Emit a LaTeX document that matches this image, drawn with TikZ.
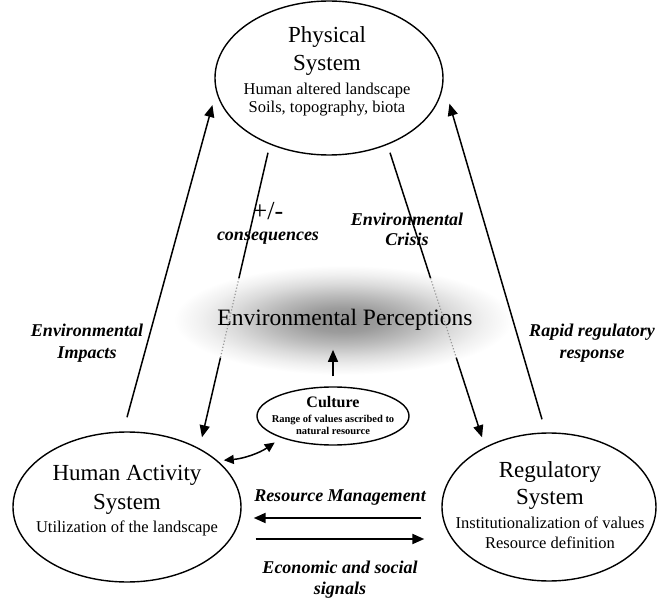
\documentclass[tikz,border=0pt]{standalone}
\usepackage{fontspec}
\setmainfont{Liberation Serif}
\usetikzlibrary{shapes.geometric,arrows.meta,calc}
\pgfdeclareradialshading{glowshade}{\pgfpoint{0bp}{0bp}}{color(0bp)=(black!44); color(4bp)=(black!39); color(8bp)=(black!27); color(12bp)=(black!14); color(15bp)=(black!6); color(18bp)=(white); color(50bp)=(white)}
\begin{document}
\begin{tikzpicture}[x=1pt,y=-1pt,
  ell/.style={draw, ellipse, line width=1.4pt, inner sep=0pt},
  arr/.style={line width=1.5pt, -{Triangle[length=12pt,width=10pt]}},
  plainline/.style={line width=1.5pt},
  fadeline/.style={draw=gray!80, dotted, line width=1.2pt},
  lab/.style={font=\fontsize{18}{22}\selectfont\bfseries\itshape, align=center, inner sep=0pt},
  big/.style={font=\fontsize{23}{28}\selectfont, align=center, inner sep=0pt},
  small/.style={font=\fontsize{16.5}{19}\selectfont, align=center, inner sep=0pt}]
\useasboundingbox (0,0) rectangle (657,599);
\shade[shading=glowshade] (343,320) ellipse [x radius=235pt, y radius=76pt];

% ellipses
\node[ell, minimum width=228pt, minimum height=154pt] (phys) at (329,78) {};
\node[ell, minimum width=228pt, minimum height=150pt] (human) at (127,507) {};
\node[ell, minimum width=214pt, minimum height=148pt] (reg) at (549,507) {};
\node[ell, minimum width=152pt, minimum height=58pt] (cult) at (333,416) {};

% texts
\node[big] (physT) at (327,51.5) {Physical\\System};
\node[small, font=\fontsize{16.5}{18}\selectfont] (physS) at (327,100) {Human altered landscape\\Soils, topography, biota};
\node[big, font=\fontsize{23}{29}\selectfont] (humanT) at (127,490) {Human Activity\\System};
\node[small] (humanS) at (127,528) {Utilization of the landscape};
\node[big, font=\fontsize{23}{27}\selectfont] (regT) at (550,486) {Regulatory\\System};
\node[small, font=\fontsize{16.5}{20}\selectfont] (regS) at (550,533) {Institutionalization of values\\Resource definition};
\node[inner sep=0pt, font=\fontsize{16}{18}\selectfont\bfseries] (cultT) at (333,402) {Culture};
\node[inner sep=0pt, align=center, font=\fontsize{10.5}{12}\selectfont\bfseries] (cultS) at (333,425) {Range of values ascribed to\\natural resource};
\node[inner sep=0pt, font=\fontsize{23.5}{26}\selectfont] (perc) at (345,320) {Environmental Perceptions};

% labels
\node[lab] (impL) at (87,343.5) {Environmental\\Impacts};
\node[lab] (rapL) at (592,343.5) {Rapid regulatory\\response};
\node[lab, font=\fontsize{18}{20}\selectfont\bfseries\itshape] (criL) at (407,229) {Environmental\\Crisis};
\node[inner sep=0pt, font=\fontsize{26}{28}\selectfont] (pmL) at (268,211) {+/-};
\node[lab] (conL) at (268,238) {consequences};
\node[lab] (resL) at (340,498) {Resource Management};
\node[lab, font=\fontsize{18}{21}\selectfont\bfseries\itshape] (ecoL) at (340,579.5) {Economic and social\\signals};

% side arrows
\draw[arr] ([yshift=14pt]human.north) -- ([xshift=-8pt,yshift=-2pt]phys.193);
\draw[arr] ([xshift=-7pt,yshift=13pt]reg.north) -- ([xshift=11pt,yshift=-2.4pt]phys.-12.8);

% consequences
\coordinate (c1) at ([xshift=-61pt,yshift=3pt]phys.south);
\coordinate (c2) at ([xshift=75pt,yshift=-6pt]human.north);
\draw[plainline] (c1) -- ($(c1)!0.441!(c2)$);
\draw[fadeline] ($(c1)!0.441!(c2)$) -- ($(c1)!0.72!(c2)$);
\draw[arr] ($(c1)!0.72!(c2)$) -- (c2);

% crisis
\coordinate (d1) at ([xshift=61pt,yshift=3pt]phys.south);
\coordinate (d2) at ([xshift=-67pt,yshift=-5pt]reg.north);
\draw[plainline] (d1) -- ($(d1)!0.441!(d2)$);
\draw[fadeline] ($(d1)!0.441!(d2)$) -- ($(d1)!0.72!(d2)$);
\draw[arr] ($(d1)!0.72!(d2)$) -- (d2);

% culture to perceptions
\draw[arr, shorten <=10pt, shorten >=19pt] (cult.north) -- (cult.north |- perc.south);

% human <-> culture
\draw[line width=1.5pt, {Triangle[length=10pt,width=9pt]}-{Triangle[length=10pt,width=9pt]}, shorten <=6pt, shorten >=8pt] (human.27) to[bend right=15] (cult.203);

% horizontal arrows
\draw[arr, line width=2pt, shorten <=20pt, shorten >=12pt] ([yshift=-11pt]reg.west) -- ([yshift=-11pt]human.east);
\draw[arr, line width=2pt, shorten <=14pt, shorten >=17pt] ([yshift=-32pt]human.east) -- ([yshift=-32pt]reg.west);
\end{tikzpicture}
\end{document}
